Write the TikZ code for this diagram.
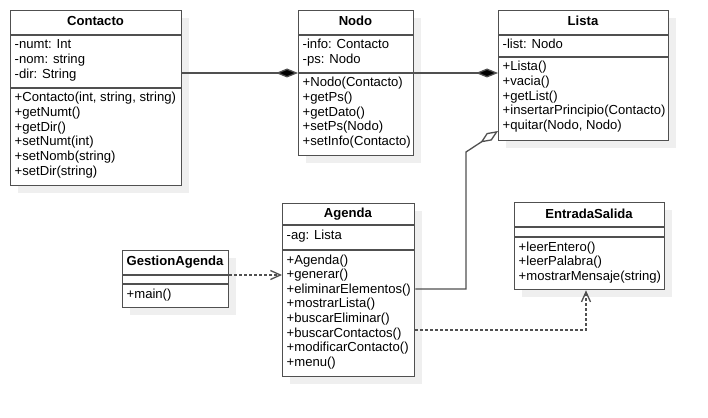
\documentclass[tikz,border=0pt]{standalone}
\usepackage{fontspec}
\setmainfont{Liberation Sans}
\usetikzlibrary{arrows.meta,shadows}

\definecolor{umlline}{HTML}{505050}
\definecolor{umlshadow}{HTML}{EFEFEF}

% one left-aligned column of members, baseline on the first row
\newcommand{\umlrows}[1]{\begin{tabular}[t]{@{}l@{}}#1\end{tabular}}

\tikzset{
  classbox/.style={draw=umlline, line width=1.3pt, fill=white, inner sep=0pt,
    anchor=north west,
    drop shadow={shadow xshift=7pt, shadow yshift=-7pt, fill=umlshadow, opacity=1}},
  divider/.style={draw=umlline, line width=1.3pt},
  classname/.style={anchor=base, inner sep=0pt, font=\fontsize{13.1}{14.6}\selectfont\bfseries},
  members/.style={anchor=base west, inner sep=0pt, font=\fontsize{13.1}{14.6}\selectfont},
  assoc/.style={draw=umlline, line width=1.3pt},
  composition/.style={assoc, -{Diamond[length=22pt, width=9pt, fill=black]}},
  aggregation/.style={assoc, -{Diamond[open, length=21pt, width=9pt]}},
  usage/.style={assoc, dash pattern=on 3pt off 2pt, -{Straight Barb[length=10pt, width=9pt]}}
}

\begin{document}
\begin{tikzpicture}[x=1pt, y=-1pt]
\useasboundingbox[fill=white] (0,0) rectangle (708,417);

% ---- Contacto ----
\node[classbox, minimum width=171pt, minimum height=175pt] (contacto) at (10,10) {};
\draw[divider] (contacto.west |- 0,35) -- (contacto.east |- 0,35);
\draw[divider] (contacto.west |- 0,88) -- (contacto.east |- 0,88);
\node[classname] (contacto-name) at (95.5,26) {Contacto};
\node[members] (contacto-attr) at (14.5,49) {\umlrows{-numt: Int\\-nom: string\\-dir: String}};
\node[members] (contacto-ops) at (14.5,102) {\umlrows{+Contacto(int, string, string)\\+getNumt()\\+getDir()\\+setNumt(int)\\+setNomb(string)\\+setDir(string)}};

% ---- Nodo ----
\node[classbox, minimum width=115pt, minimum height=145pt] (nodo) at (298,10) {};
\draw[divider] (nodo.west |- 0,35) -- (nodo.east |- 0,35);
\draw[divider] (nodo.west |- 0,73) -- (nodo.east |- 0,73);
\node[classname] (nodo-name) at (355.5,26) {Nodo};
\node[members] (nodo-attr) at (302.5,49) {\umlrows{-info: Contacto\\-ps: Nodo}};
\node[members] (nodo-ops) at (302.5,87) {\umlrows{+Nodo(Contacto)\\+getPs()\\+getDato()\\+setPs(Nodo)\\+setInfo(Contacto)}};

% ---- Lista ----
\node[classbox, minimum width=170pt, minimum height=130pt] (lista) at (498,10) {};
\draw[divider] (lista.west |- 0,35) -- (lista.east |- 0,35);
\draw[divider] (lista.west |- 0,57) -- (lista.east |- 0,57);
\node[classname] (lista-name) at (583,26) {Lista};
\node[members] (lista-attr) at (502.5,49) {\umlrows{-list: Nodo}};
\node[members] (lista-ops) at (502.5,71) {\umlrows{+Lista()\\+vacia()\\+getList()\\+insertarPrincipio(Contacto)\\+quitar(Nodo, Nodo)}};

% ---- Agenda ----
\node[classbox, minimum width=132pt, minimum height=173pt] (agenda) at (282,203) {};
\draw[divider] (agenda.west |- 0,225) -- (agenda.east |- 0,225);
\draw[divider] (agenda.west |- 0,250) -- (agenda.east |- 0,250);
\node[classname] (agenda-name) at (348,217.5) {Agenda};
\node[members] (agenda-attr) at (286.5,239) {\umlrows{-ag: Lista}};
\node[members] (agenda-ops) at (286.5,264) {\umlrows{+Agenda()\\+generar()\\+eliminarElementos()\\+mostrarLista()\\+buscarEliminar()\\+buscarContactos()\\+modificarContacto()\\+menu()}};

% ---- GestionAgenda ----
\node[classbox, minimum width=106pt, minimum height=57pt] (gestion) at (122,250) {};
\draw[divider] (gestion.west |- 0,275) -- (gestion.east |- 0,275);
\draw[divider] (gestion.west |- 0,284) -- (gestion.east |- 0,284);
\node[classname] (gestion-name) at (175,265) {GestionAgenda};
\node[members] (gestion-ops) at (126.5,298) {\umlrows{+main()}};

% ---- EntradaSalida ----
\node[classbox, minimum width=150pt, minimum height=87pt] (entrada) at (514,202) {};
\draw[divider] (entrada.west |- 0,227) -- (entrada.east |- 0,227);
\draw[divider] (entrada.west |- 0,237) -- (entrada.east |- 0,237);
\node[classname] (entrada-name) at (589,218) {EntradaSalida};
\node[members] (entrada-ops) at (518.5,251) {\umlrows{+leerEntero()\\+leerPalabra()\\+mostrarMensaje(string)}};

% ---- relations ----
\draw[composition] (contacto.east |- 0,73) -- (nodo.west |- 0,73);
\draw[composition] (nodo.east |- 0,73) -- (lista.west |- 0,73);

\coordinate (aggbend) at (466,152);
\draw[aggregation] (agenda.east |- 0,289) -| (aggbend) -- (lista.west |- 0,131);

\draw[usage] (gestion.east |- 0,275) -- (agenda.west |- 0,275);
\draw[usage] (agenda.east |- 0,330) -| (entrada.south -| 586,0);
\end{tikzpicture}
\end{document}
